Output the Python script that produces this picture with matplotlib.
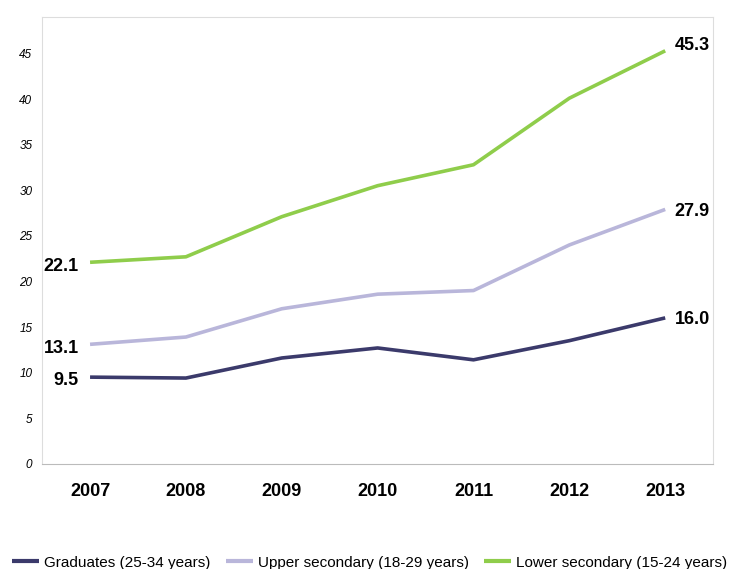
import numpy as np
import matplotlib
matplotlib.use("Agg")
import matplotlib.pyplot as plt

# data
years = ['2007', '2008', '2009', '2010', '2011', '2012', '2013']
graduates = [9.5, 9.4, 11.6, 12.7, 11.4, 13.5, 16.0]
upper_secondary = [13.1, 13.9, 17.0, 18.6, 19.0, 24.0, 27.9]
lower_secondary = [22.1, 22.7, 27.1, 30.5, 32.8, 40.1, 45.3]
series_names = ['Graduates (25-34 years)', 'Upper secondary (18-29 years)',
                'Lower secondary (15-24 years)']
colors = ['#3b3a6b', '#b9b6da', '#8fcd4b']

plt.rcParams['font.family'] = ['Liberation Sans', 'DejaVu Sans']

fig = plt.figure(figsize=(7.39, 5.69), dpi=100)
ax = fig.add_axes([0.057, 0.185, 0.908, 0.785])

x = np.arange(len(years))
series = [graduates, upper_secondary, lower_secondary]
end_shift = [0, 0, 0.8]  # top label sits a bit above its line end
for vals, name, c, dy in zip(series, series_names, colors, end_shift):
    ax.plot(x, vals, color=c, lw=2.6, label=name, solid_capstyle='butt')
    ax.text(x[0] - 0.12, vals[0] - 0.2, f'{vals[0]:.1f}', ha='right', va='center_baseline',
            fontsize=13, fontweight='bold')
    ax.text(x[-1] + 0.1, vals[-1] + dy, f'{vals[-1]:.1f}', ha='left', va='center_baseline',
            fontsize=13, fontweight='bold')

ax.set_xlim(-0.5, 6.5)
ax.set_ylim(0, 49)
ax.set_yticks(np.arange(0, 50, 5))
ax.set_xticks(x)
ax.set_xticklabels(years, fontsize=13, fontweight='bold')
for lab in ax.get_yticklabels():
    lab.set_fontstyle('italic')
    lab.set_fontsize(8.5)
ax.tick_params(axis='both', length=0)
ax.tick_params(axis='x', pad=14)
ax.tick_params(axis='y', pad=7)

for s in ['left', 'top', 'right']:
    ax.spines[s].set_color('#dddddd')
ax.spines['bottom'].set_color('#bbbbbb')

leg = fig.legend(loc='center', bbox_to_anchor=(0.5, 0.011), ncol=3, frameon=False,
                 handlelength=1.8, handletextpad=0.3, columnspacing=1.0,
                 prop={'size': 11})
for h in leg.get_lines():
    h.set_linewidth(3)

fig.savefig('out.png', dpi=100)
